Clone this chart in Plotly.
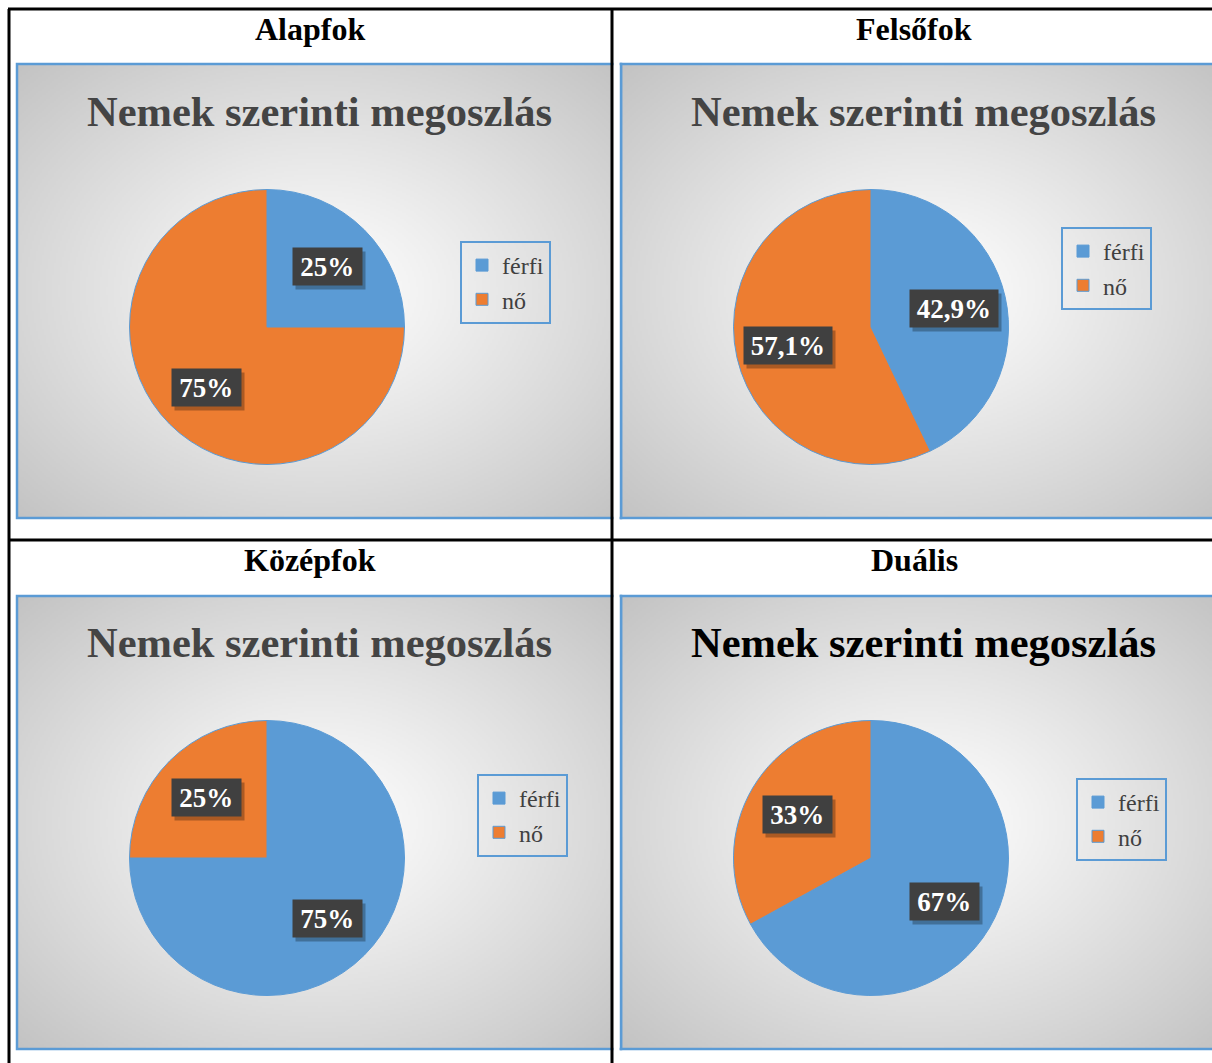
import base64
import struct
import zlib

import numpy as np
import plotly.graph_objects as go

# ---------------- data ----------------
headers = ["Alapfok", "Felsőfok", "Középfok", "Duális"]
labels = ["férfi", "nő"]
ferfi_pct = [25, 42.9, 75, 67]
no_pct = [75, 57.1, 25, 33]
chart_title = "Nemek szerinti megoszlás"

# ---------------- styling / layout ----------------
W, H = 1212, 1063
BLUE = "#5B9BD5"
ORANGE = "#ED7D31"
SERIF = "Liberation Serif, Times New Roman, serif"

chart_left = [17, 621, 17, 621]
chart_top = [64, 64, 596, 596]
chart_bottom = [518, 518, 1049, 1049]
chart_vis_right = [611, 1212, 611, 1212]
CHART_W = 604
pie_center = [(267, 327), (871, 327), (267, 858), (871, 858)]
PIE_R = 137.5
legend_pos = [(460, 241), (1061, 227), (477, 774), (1076, 778)]
title_y = [111, 111, 642, 642]
title_color = ["#444444", "#444444", "#444444", "#000000"]
header_pos = [(310, 29), (914, 29), (310, 560), (914, 560)]


def px(x):
    return x / W


def py(y):
    return 1 - y / H


def png_uri(arr):
    h, w, _ = arr.shape
    raw = b"".join(b"\x00" + arr[i].tobytes() for i in range(h))

    def chunk(t, d):
        return (struct.pack(">I", len(d)) + t + d
                + struct.pack(">I", zlib.crc32(t + d) & 0xFFFFFFFF))

    png = (b"\x89PNG\r\n\x1a\n"
           + chunk(b"IHDR", struct.pack(">IIBBBBB", w, h, 8, 2, 0, 0, 0))
           + chunk(b"IDAT", zlib.compress(raw, 9))
           + chunk(b"IEND", b""))
    return "data:image/png;base64," + base64.b64encode(png).decode()


def gradient(vis_w, full_w, h, step=2):
    xs = (np.arange(0, vis_w, step) + 0.5)
    ys = (np.arange(0, h, step) + 0.5)
    X, Y = np.meshgrid(xs, ys)
    d = np.sqrt(((X - full_w / 2) / (full_w / 2)) ** 2 + ((Y - h / 2) / (h / 2)) ** 2) / np.sqrt(2)
    d = np.clip(d, 0, 1)
    g = 255 - 60 * d ** 1.1
    g = g.astype(np.uint8)
    return np.stack([g, g, g], axis=-1)


def ann(x, y, text, font, **kw):
    d = dict(x=px(x), y=py(y), xref="paper", yref="paper", text=text,
             showarrow=False, xanchor="center", yanchor="middle", font=font)
    d.update(kw)
    return d


fig = go.Figure()
shapes = []
images = []
annotations = []
legends = {}

for i in range(4):
    x0, y0, y1 = chart_left[i], chart_top[i], chart_bottom[i]
    xr = chart_vis_right[i]
    vis_w = xr - x0
    ch = y1 - y0
    images.append(dict(
        source=png_uri(gradient(vis_w, CHART_W, ch)),
        xref="paper", yref="paper", x=px(x0), y=py(y0),
        sizex=vis_w / W, sizey=ch / H, sizing="stretch",
        xanchor="left", yanchor="top", layer="below"))
    shapes.append(dict(type="rect", xref="paper", yref="paper",
                       x0=px(x0), x1=px(x0 + CHART_W), y0=py(y1), y1=py(y0),
                       line=dict(color=BLUE, width=2.5), fillcolor="rgba(0,0,0,0)",
                       layer="below"))

    cx, cy = pie_center[i]
    vals = [ferfi_pct[i], no_pct[i]]
    lname = "legend" if i == 0 else f"legend{i + 1}"
    fig.add_trace(go.Pie(
        labels=labels, values=vals, sort=False, direction="clockwise", rotation=0,
        marker=dict(colors=[BLUE, ORANGE], line=dict(color=BLUE, width=1)),
        textinfo="none", hoverinfo="label+percent",
        domain=dict(x=[px(cx - PIE_R), px(cx + PIE_R)],
                    y=[py(cy + PIE_R), py(cy - PIE_R)]),
        legend=lname, legendgroup=f"g{i}", showlegend=True))
    lx, ly = legend_pos[i]
    legends[lname] = dict(
        x=px(lx), y=py(ly), xanchor="left", yanchor="top",
        xref="paper", yref="paper",
        bgcolor="rgba(0,0,0,0)", bordercolor=BLUE, borderwidth=2,
        font=dict(family=SERIF, size=24, color="#404040"),
        itemclick=False, itemdoubleclick=False)

    # data labels from the slice angles
    total = sum(vals)
    start = 0.0
    for v in vals:
        ang = np.deg2rad((start + v / 2) / total * 360)
        start += v
        off = 0.62 * PIE_R
        lx_ = cx + off * np.sin(ang)
        ly_ = cy - off * np.cos(ang)
        s = f"{v:g}%".replace(".", ",")
        bw = 40 + 9.5 * len(s)
        annotations.append(ann(lx_, ly_, " ",
                               dict(family=SERIF, size=27, color="rgba(0,0,0,0)"),
                               xshift=3, yshift=-4, bgcolor="rgba(0,0,0,0.28)",
                               borderpad=0, width=bw, height=37))
        annotations.append(ann(lx_, ly_, f"<b>{s}</b>",
                               dict(family=SERIF, size=27, color="white"),
                               bgcolor="#404040", borderpad=0, width=bw, height=37))

    # chart title
    annotations.append(ann(x0 + CHART_W / 2, title_y[i], f"<b>{chart_title}</b>",
                           dict(family=SERIF, size=42.5, color=title_color[i])))

    # table header
    hx, hy = header_pos[i]
    annotations.append(ann(hx, hy, f"<b>{headers[i]}</b>",
                           dict(family=SERIF, size=32, color="black")))

# table lines
line_style = dict(color="black", width=3)
extra = [
    dict(type="rect", xref="paper", yref="paper", x0=px(613.5), x1=px(619.5), y0=py(H + 5), y1=py(10.5),
         line=dict(width=0), fillcolor="white"),
    dict(type="line", xref="paper", yref="paper", x0=px(9), x1=px(9), y0=py(9), y1=py(H + 5), line=line_style),
    dict(type="line", xref="paper", yref="paper", x0=px(612), x1=px(612), y0=py(9), y1=py(H + 5), line=line_style),
    dict(type="line", xref="paper", yref="paper", x0=px(8), x1=px(W + 5), y0=py(9), y1=py(9), line=line_style),
    dict(type="line", xref="paper", yref="paper", x0=px(8), x1=px(W + 5), y0=py(540), y1=py(540), line=line_style),
]
for s in extra:
    s["layer"] = "above"
shapes += extra

fig.update_layout(
    width=W, height=H, margin=dict(l=0, r=0, t=0, b=0),
    paper_bgcolor="white", plot_bgcolor="white",
    shapes=shapes, images=images, annotations=annotations,
    **legends)

fig.write_html("out.html")
